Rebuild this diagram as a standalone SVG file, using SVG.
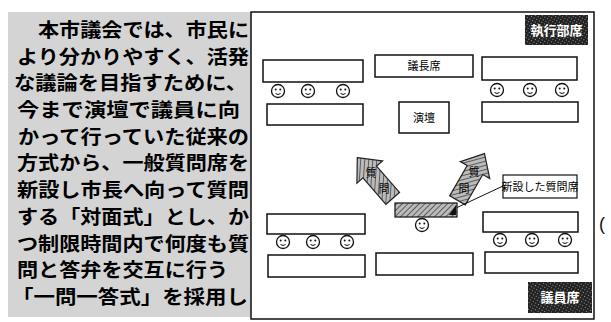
<svg xmlns="http://www.w3.org/2000/svg" width="611" height="322" viewBox="0 0 611 322">
<defs>
<pattern id="hatch" width="4" height="4" patternUnits="userSpaceOnUse" patternTransform="rotate(45)">
<rect width="4" height="4" fill="#bbb"/>
<line x1="0" y1="0" x2="0" y2="4" stroke="#444" stroke-width="1.6"/>
</pattern>
<pattern id="dark" width="3" height="3" patternUnits="userSpaceOnUse" patternTransform="rotate(30)">
<rect width="3" height="3" fill="#222"/>
<rect width="1" height="1" fill="#999"/>
</pattern>
<g id="face">
<circle r="6.5" fill="#fff" stroke="#111" stroke-width="1.3"/>
<circle cx="-2.3" cy="-1.5" r="1" fill="#111"/>
<circle cx="2.3" cy="-1.5" r="1" fill="#111"/>
<path d="M-2.5,2.5 Q0,4.5 2.5,2.5" fill="none" stroke="#111" stroke-width="1"/>
</g>
</defs>
<style>
.body{font-family:"Noto Sans CJK JP","Noto Sans CJK SC",sans-serif;font-size:19px;fill:#000;font-weight:bold}
.seat{fill:#fff;stroke:#111;stroke-width:1.5}
.lbl{font-family:"Noto Sans CJK JP",sans-serif;font-size:11px;fill:#000;text-anchor:middle}
.wlbl{font-family:"Noto Sans CJK JP",sans-serif;font-size:13px;fill:#fff;text-anchor:middle;font-weight:bold}
</style>
<rect width="611" height="322" fill="#fff"/>
<g id="bodytext">
<rect x="8" y="12" width="243" height="305" fill="#d4d4d4"/>
<text class="body" x="38" y="37" textLength="211" lengthAdjust="spacingAndGlyphs">本市議会では、市民に</text>
<text class="body" x="17" y="64" textLength="232" lengthAdjust="spacingAndGlyphs">より分かりやすく、活発</text>
<text class="body" x="14" y="90" textLength="233" lengthAdjust="spacingAndGlyphs">な議論を目指すために、</text>
<text class="body" x="17" y="117" textLength="223" lengthAdjust="spacingAndGlyphs">今まで演壇で議員に向</text>
<text class="body" x="18" y="144" textLength="231" lengthAdjust="spacingAndGlyphs">かって行っていた従来の</text>
<text class="body" x="17" y="170" textLength="232" lengthAdjust="spacingAndGlyphs">方式から、一般質問席を</text>
<text class="body" x="17" y="197" textLength="232" lengthAdjust="spacingAndGlyphs">新設し市長へ向って質問</text>
<text class="body" x="17" y="224" textLength="232" lengthAdjust="spacingAndGlyphs">する「対面式」とし、か</text>
<text class="body" x="17" y="251" textLength="232" lengthAdjust="spacingAndGlyphs">つ制限時間内で何度も質</text>
<text class="body" x="17" y="277" textLength="211" lengthAdjust="spacingAndGlyphs">問と答弁を交互に行う</text>
<text class="body" x="12" y="304" textLength="236" lengthAdjust="spacingAndGlyphs">「一問一答式」を採用し</text>
</g>
<rect id="panel" x="251" y="12" width="343" height="307" fill="none" stroke="#111" stroke-width="1.5"/>
<g id="exec-label"><rect x="525" y="15" width="63" height="30" fill="url(#dark)"/><text class="wlbl" x="556.5" y="35">執行部席</text></g>
<g id="seats-row1">
<rect class="seat" x="263" y="60" width="100" height="22"/>
<rect class="seat" x="482" y="57" width="95" height="23"/>
</g>
<g id="chair"><rect class="seat" x="375" y="55" width="98" height="22"/><text class="lbl" x="424" y="70">議長席</text></g>
<g id="faces-row1">
<use href="#face" x="278" y="91"/><use href="#face" x="308" y="91"/><use href="#face" x="343" y="91"/>
<use href="#face" x="497" y="90"/><use href="#face" x="530" y="90"/><use href="#face" x="562" y="90"/>
</g>
<g id="seats-row2">
<rect class="seat" x="267" y="104" width="96" height="21"/>
<rect class="seat" x="482" y="102" width="96" height="20"/>
</g>
<g id="podium"><rect class="seat" x="399" y="102" width="50" height="31"/><text class="lbl" x="424" y="122">演壇</text></g>
<g id="connectors">
<g transform="translate(375,178) rotate(-41)"><path d="M0,-27 L17,-8 L9,-8 L9,27 L-9,27 L-9,-8 L-17,-8 Z" fill="url(#hatch)" stroke="#222" stroke-width="1.2"/></g>
<g transform="translate(471,177) rotate(30)"><path d="M0,-27 L17,-8 L9,-8 L9,27 L-9,27 L-9,-8 L-17,-8 Z" fill="url(#hatch)" stroke="#222" stroke-width="1.2"/></g>
<line x1="456" y1="208" x2="503" y2="186" stroke="#111" stroke-width="1"/>
</g>
<g id="arrow-labels">
<text class="lbl" x="371" y="177" font-size="10">質</text><text class="lbl" x="384" y="193" font-size="10">問</text>
<text class="lbl" x="474" y="176" font-size="10">質</text><text class="lbl" x="464" y="193" font-size="10">問</text>
</g>
<g id="question-seat"><rect x="395" y="203" width="62" height="14" fill="url(#hatch)" stroke="#111" stroke-width="1.2"/><path d="M449,215 L456,205 L456,215 Z" fill="#111"/></g>
<g id="callout"><rect x="503" y="175" width="74" height="23" fill="#fff" stroke="#111" stroke-width="1.2"/><text class="lbl" x="540" y="191" font-size="10.5">新設した質問席</text></g>
<use href="#face" x="422" y="225"/>
<g id="seats-row3">
<rect class="seat" x="267" y="214" width="98" height="20"/>
<rect class="seat" x="483" y="212" width="95" height="20"/>
</g>
<g id="faces-row3">
<use href="#face" x="283" y="242"/><use href="#face" x="313" y="242"/><use href="#face" x="347" y="242"/>
<use href="#face" x="500" y="240"/><use href="#face" x="532" y="240"/><use href="#face" x="565" y="240"/>
</g>
<g id="seats-row4">
<rect class="seat" x="268" y="255" width="97" height="22"/>
<rect class="seat" x="376" y="253" width="97" height="22"/>
<rect class="seat" x="485" y="252" width="93" height="21"/>
</g>
<g id="member-label"><rect x="528" y="282" width="64" height="31" fill="url(#dark)"/><text class="wlbl" x="560" y="302">議員席</text></g>
<text x="599" y="230" font-family="Liberation Sans, sans-serif" font-size="18" fill="#111">(</text>
</svg>
